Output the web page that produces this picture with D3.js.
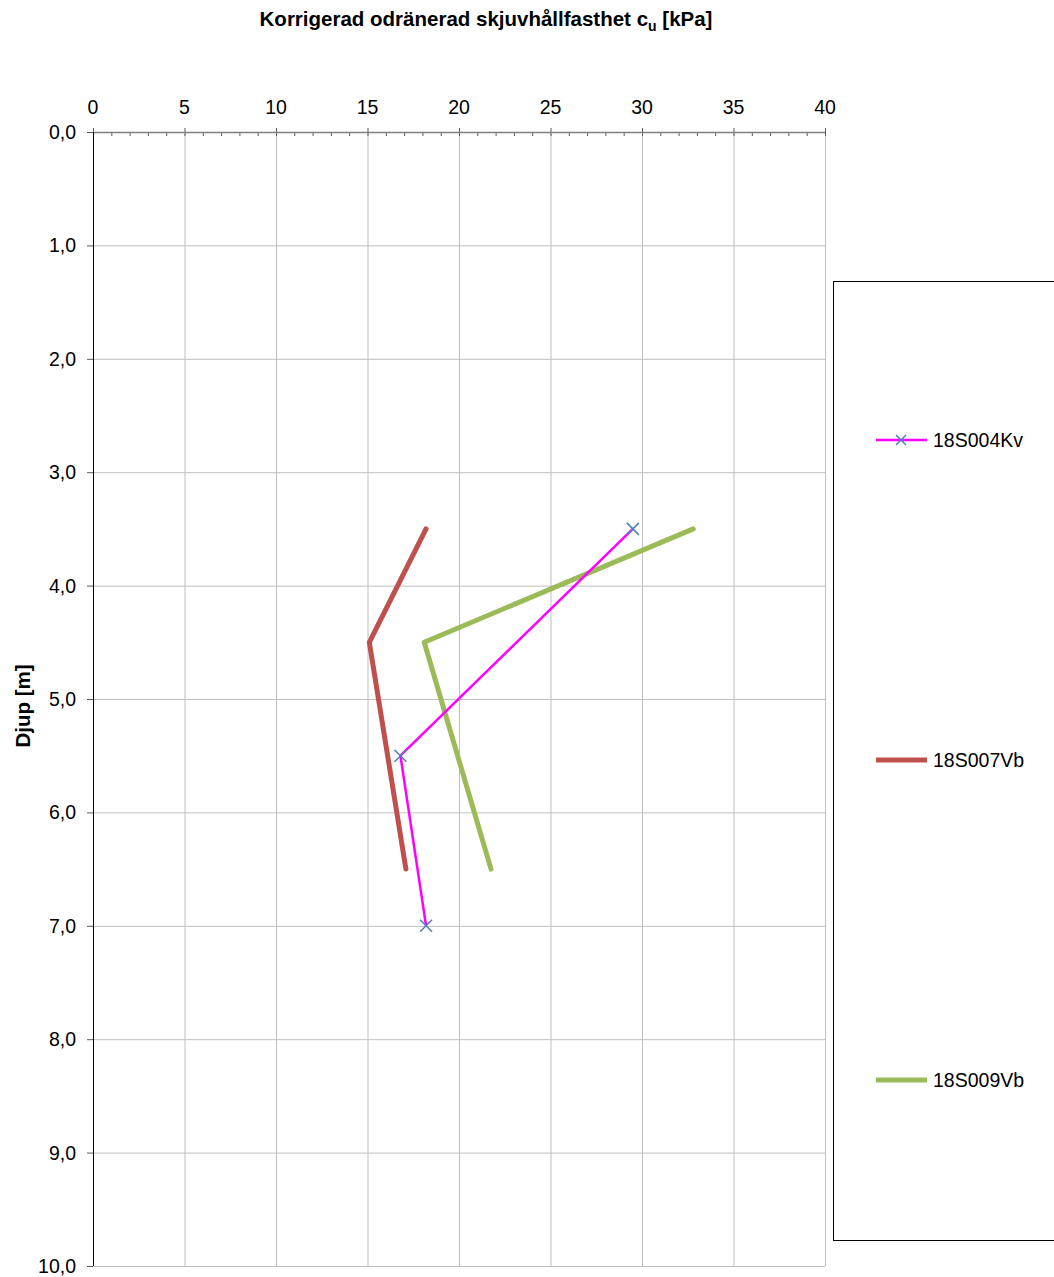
<!DOCTYPE html>
<html>
<head>
<meta charset="utf-8">
<script src="https://cdn.jsdelivr.net/npm/d3@7"></script>
<style>
body { margin: 0; background: #fff; }
text { font-family: "Liberation Sans", Arial, sans-serif; }
</style>
</head>
<body>
<script>
// values
var seriesNames = ["18S004Kv", "18S007Vb", "18S009Vb"];
var kv004 = [[29.5, 3.5], [16.8, 5.5], [18.2, 7.0]];
var vb007 = [[18.2, 3.5], [15.1, 4.5], [17.1, 6.5]];
var vb009 = [[32.8, 3.5], [18.1, 4.5], [21.75, 6.5]];
var xTicks = [0, 5, 10, 15, 20, 25, 30, 35, 40];
var yTicks = [0, 1, 2, 3, 4, 5, 6, 7, 8, 9, 10];

var width = 1054, height = 1277;
var margin = {top: 132, left: 93, right: 229, bottom: 11};

var svg = d3.select("body").append("svg")
    .attr("width", width)
    .attr("height", height);

x = d3.scaleLinear().domain([0, 40]).range([margin.left, width - margin.right]);
y = d3.scaleLinear().domain([0, 10]).range([margin.top, height - margin.bottom]);

// grid
svg.append("g")
    .attr("transform", "translate(0," + margin.top + ")")
    .call(d3.axisTop(x).tickValues(xTicks).tickFormat("").tickSize(-(y(10) - y(0))))
    .call(function (g) {
        g.select(".domain").remove();
        g.selectAll("line").attr("stroke", "#bfbfbf").attr("stroke-width", 1);
    });

svg.append("g")
    .attr("transform", "translate(" + margin.left + ",0)")
    .call(d3.axisLeft(y).tickValues(yTicks).tickFormat("").tickSize(-(x(40) - x(0))))
    .call(function (g) {
        g.select(".domain").remove();
        g.selectAll("line").attr("stroke", "#bfbfbf").attr("stroke-width", 1);
    });

// top x axis: minor ticks downward, major ticks across
var minor = d3.range(0, 41, 1);
svg.append("g")
    .selectAll("line")
    .data(minor)
    .enter().append("line")
    .attr("x1", function (d) { return x(d) + 0.5; })
    .attr("x2", function (d) { return x(d) + 0.5; })
    .attr("y1", function (d) { return d % 5 == 0 ? margin.top - 4 : margin.top; })
    .attr("y2", margin.top + 4)
    .attr("stroke", "#595959")
    .attr("stroke-width", 1);

svg.append("line")
    .attr("x1", x(0)).attr("x2", x(40))
    .attr("y1", margin.top + 0.5).attr("y2", margin.top + 0.5)
    .attr("stroke", "#7f7f7f").attr("stroke-width", 1.5);

svg.append("g")
    .selectAll("text")
    .data(xTicks)
    .enter().append("text")
    .attr("x", function (d) { return x(d); })
    .attr("y", 114)
    .attr("text-anchor", "middle")
    .attr("font-size", 19.5)
    .text(function (d) { return d; });

// left y axis
svg.append("line")
    .attr("x1", margin.left + 0.5).attr("x2", margin.left + 0.5)
    .attr("y1", y(0)).attr("y2", y(10))
    .attr("stroke", "#000").attr("stroke-width", 1);

svg.append("g")
    .selectAll("line")
    .data(yTicks)
    .enter().append("line")
    .attr("x1", margin.left - 6).attr("x2", margin.left)
    .attr("y1", function (d) { return y(d) + 0.5; })
    .attr("y2", function (d) { return y(d) + 0.5; })
    .attr("stroke", "#595959");

svg.append("g")
    .selectAll("text")
    .data(yTicks)
    .enter().append("text")
    .attr("x", 76)
    .attr("y", function (d) { return y(d) + 7; })
    .attr("text-anchor", "end")
    .attr("font-size", 19.5)
    .text(function (d) { return d3.format(".1f")(d).replace(".", ","); });

// titles
var title = svg.append("text")
    .attr("x", 486)
    .attr("y", 26)
    .attr("text-anchor", "middle")
    .attr("font-size", 20.5)
    .attr("font-weight", "bold");
title.append("tspan").text("Korrigerad odränerad skjuvhållfasthet c");
title.append("tspan").attr("font-size", 14).attr("dy", 5).text("u");
title.append("tspan").attr("dy", -5).text(" [kPa]");

svg.append("text")
    .attr("transform", "translate(30,706) rotate(-90)")
    .attr("text-anchor", "middle")
    .attr("font-size", 20.5)
    .attr("font-weight", "bold")
    .text("Djup [m]");

// series
var line = d3.line()
    .x(function (d) { return x(d[0]); })
    .y(function (d) { return y(d[1]); });

var series = [
    {name: seriesNames[0], data: kv004, color: "#ff00ff", w: 2.5, marker: true},
    {name: seriesNames[1], data: vb007, color: "#c0504d", w: 5, marker: false},
    {name: seriesNames[2], data: vb009, color: "#9bbb59", w: 5, marker: false}
];

var drawOrder = [series[1], series[2], series[0]];

svg.selectAll(".series")
    .data(drawOrder)
    .enter().append("path")
    .attr("class", "series")
    .attr("d", function (d) { return line(d.data); })
    .attr("fill", "none")
    .attr("stroke", function (d) { return d.color; })
    .attr("stroke-width", function (d) { return d.w; })
    .attr("stroke-linecap", "round")
    .attr("stroke-linejoin", "round");

function cross(sel, cx, cy, r) {
    sel.append("path")
        .attr("d", "M" + (cx - r) + "," + (cy - r) + "L" + (cx + r) + "," + (cy + r) +
            "M" + (cx - r) + "," + (cy + r) + "L" + (cx + r) + "," + (cy - r))
        .attr("stroke", "#4f81bd")
        .attr("stroke-width", 1.5)
        .attr("fill", "none");
}

kv004.forEach(function (d) { cross(svg, x(d[0]), y(d[1]), 6); });

// legend
svg.append("rect")
    .attr("x", 833.5).attr("y", 281.5)
    .attr("width", 240).attr("height", 959)
    .attr("fill", "none")
    .attr("stroke", "#000")
    .attr("stroke-width", 1);

var legendY = [440, 760, 1080];
series.forEach(function (s, i) {
    var g = svg.append("g");
    g.append("line")
        .attr("x1", 876).attr("x2", 927)
        .attr("y1", legendY[i]).attr("y2", legendY[i])
        .attr("stroke", s.color)
        .attr("stroke-width", s.w);
    if (s.marker) cross(g, 901, legendY[i], 5);
    g.append("text")
        .attr("x", 933)
        .attr("y", legendY[i] + 7)
        .attr("font-size", 19.5)
        .text(s.name);
});
</script>
</body>
</html>
